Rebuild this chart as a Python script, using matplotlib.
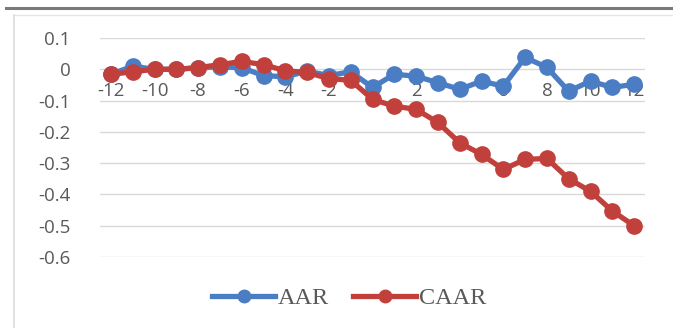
import matplotlib
matplotlib.use("Agg")
import matplotlib.pyplot as plt
from matplotlib.lines import Line2D

days = list(range(-12, 13))
aar = [-0.016, 0.01, 0.0, 0.0, 0.005, 0.008, 0.005, -0.02, -0.024, -0.006, -0.02,
       -0.008, -0.058, -0.016, -0.022, -0.043, -0.064, -0.038, -0.054, 0.038, 0.006,
       -0.07, -0.038, -0.058, -0.048]
caar = [-0.016, -0.008, 0.0, 0.0, 0.005, 0.015, 0.025, 0.015, -0.005, -0.01, -0.03,
        -0.035, -0.096, -0.118, -0.128, -0.17, -0.235, -0.272, -0.32, -0.288, -0.285,
        -0.35, -0.39, -0.453, -0.50]
yticks = [0.1, 0, -0.1, -0.2, -0.3, -0.4, -0.5, -0.6]
ytick_labels = ["0.1", "0", "-0.1", "-0.2", "-0.3", "-0.4", "-0.5", "-0.6"]
xticks = list(range(-12, 13, 2))

blue = "#4A7DC4"
red = "#C2403C"

fig = plt.figure(figsize=(6.73, 3.28), dpi=100)
fig.patch.set_facecolor("white")

# frame decorations
fig.add_artist(Line2D([6/673, 1], [1-8/328, 1-8/328], color="#7a7a7a", lw=2.2))
fig.add_artist(Line2D([14/673, 1], [1-15/328, 1-15/328], color="#e6e6e6", lw=1.0))
fig.add_artist(Line2D([14/673, 14/673], [0, 1-15/328], color="#dcdcdc", lw=1.2))

ax = fig.add_axes([100/673, 1-257/328, 545/673, 219/328])
ax.set_xlim(-12.5, 12.5)
ax.set_ylim(-0.6, 0.1)
ax.set_yticks(yticks)
ax.set_yticklabels(ytick_labels)
ax.yaxis.grid(True, color="#d9d9d9", lw=1.0)
ax.set_axisbelow(True)
for s in ["top", "right", "left"]:
    ax.spines[s].set_visible(False)
ax.spines["bottom"].set_position(("data", 0))
ax.spines["bottom"].set_visible(False)
ax.set_xticks(xticks)
ax.set_xticklabels([str(t) for t in xticks])
ax.tick_params(axis="both", length=0, labelsize=13.5, labelcolor="#595959")
ax.tick_params(axis="x", pad=9)
ax.tick_params(axis="y", pad=21)
for lab in ax.get_xticklabels() + ax.get_yticklabels():
    lab.set_fontfamily("Open Sans")

ax.plot(days, aar, color=blue, lw=3.8, marker="o", ms=11, label="AAR", zorder=3)
ax.plot(days, caar, color=red, lw=3.8, marker="o", ms=11, label="CAAR", zorder=4)

leg = fig.legend(loc="center", bbox_to_anchor=(349/673, 1-298/328), ncol=2,
                 frameon=False, handlelength=2.6, columnspacing=1.0, handletextpad=0.1,
                 prop={"family": "Liberation Serif", "size": 17.5})
for t in leg.get_texts():
    t.set_color("#595959")
for h in leg.legend_handles:
    h.set_markersize(9)

fig.savefig("out.png", dpi=100)
